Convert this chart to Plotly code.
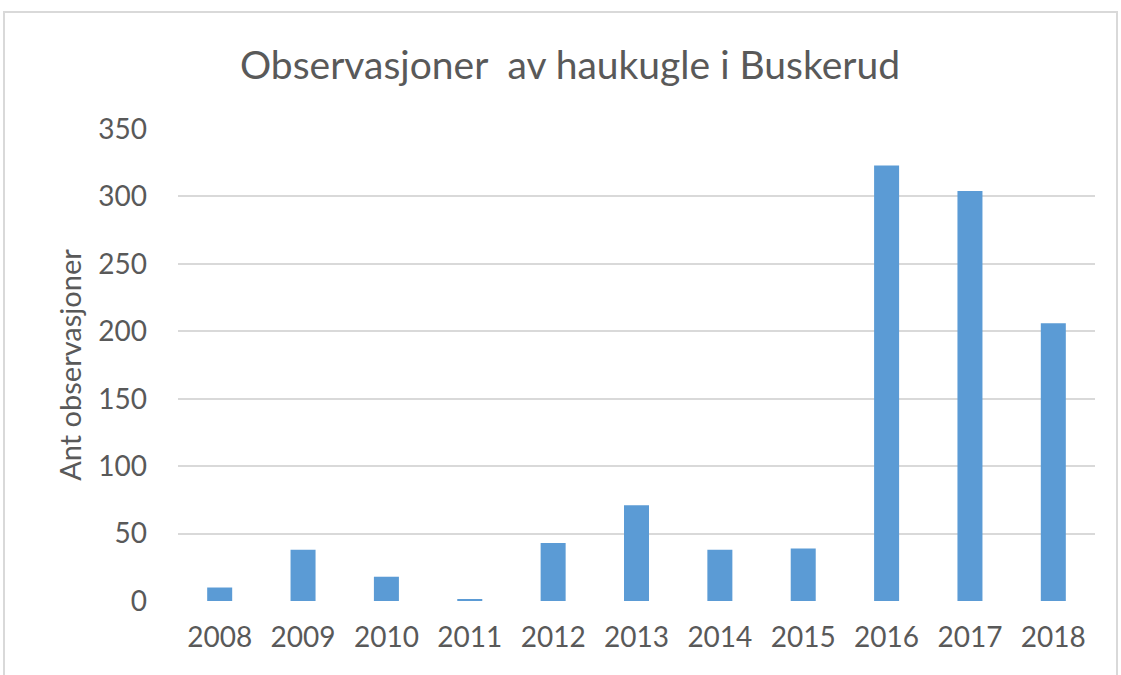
import plotly.graph_objects as go

# Yearly counts of Northern hawk owl observations in Buskerud
years = ["2008", "2009", "2010", "2011", "2012", "2013", "2014", "2015", "2016", "2017", "2018"]
observations = [10, 38, 18, 1, 43, 71, 38, 39, 323, 304, 206]
y_ticks = [0, 50, 100, 150, 200, 250, 300, 350]

TEXT = "#595959"
GRID = "#D9D9D9"
FONT = "Lato, 'Open Sans', sans-serif"

fig = go.Figure(
    go.Bar(
        x=years,
        y=observations,
        marker=dict(color="#5B9BD5", line=dict(width=0)),
    )
)

# plot area spans x 178..1095, y 129..601 in a 1121x675 page
L, R, T, B = 178, 1121 - 1095, 129, 675 - 601
W, H = 1121 - L - R, 675 - T - B


def px_x(p):
    return (p - L) / W


def px_y(p):
    return (675 - B - p) / H


fig.update_layout(
    width=1121,
    height=675,
    margin=dict(l=L, r=R, t=T, b=B),
    paper_bgcolor="white",
    plot_bgcolor="white",
    bargap=0.7,
    showlegend=False,
    font=dict(family=FONT, color=TEXT, size=28),
    title=dict(
        text="Observasjoner&nbsp; av haukugle i Buskerud",
        x=570 / 1121,
        xref="container",
        xanchor="center",
        y=1 - 65 / 675,
        yanchor="middle",
        font=dict(family=FONT, size=39, color=TEXT),
    ),
    xaxis=dict(
        type="category",
        showgrid=False,
        showline=False,
        zeroline=False,
        ticks="",
        ticklabelstandoff=17,
        tickfont=dict(size=28, color=TEXT),
    ),
    yaxis=dict(
        range=[0, 350],
        tickvals=y_ticks,
        showgrid=True,
        gridcolor=GRID,
        gridwidth=2,
        zeroline=False,
        showline=False,
        ticks="",
        ticklabelstandoff=30,
        tickfont=dict(size=28, color=TEXT),
        title=dict(text="Ant observasjoner", standoff=8, font=dict(size=29, color=TEXT)),
    ),
    shapes=[
        dict(
            type="rect",
            xref="paper",
            yref="paper",
            x0=px_x(4),
            x1=px_x(1117),
            y0=px_y(690),
            y1=px_y(12),
            line=dict(color=GRID, width=2),
            fillcolor="rgba(0,0,0,0)",
            layer="below",
        )
    ],
)

fig.write_html("out.html")
